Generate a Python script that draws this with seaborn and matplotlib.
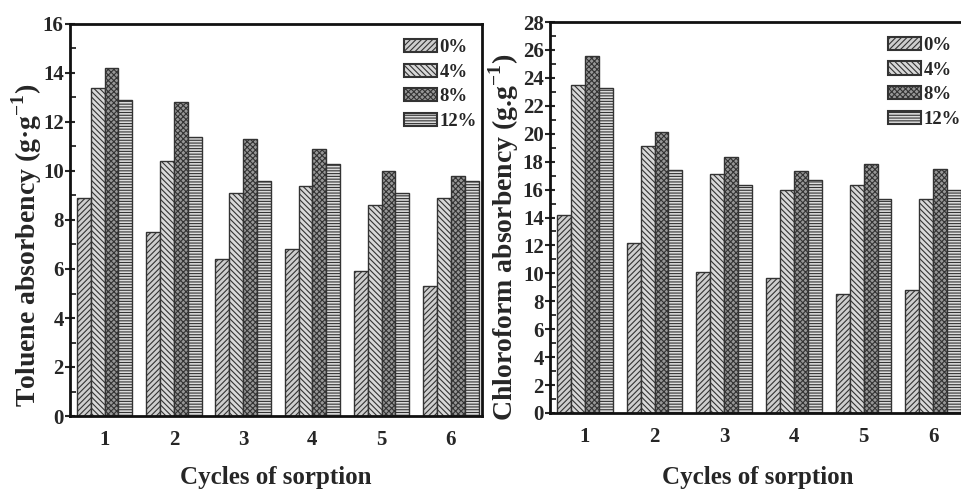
import matplotlib
matplotlib.use("Agg")
import matplotlib.pyplot as plt
import seaborn as sns
import pandas as pd
from matplotlib.ticker import MultipleLocator

# Sorption cycles and filler loadings
cycles = ["1", "2", "3", "4", "5", "6"]
loadings = ["0%", "4%", "8%", "12%"]

# Toluene absorbency (g/g) per loading, cycles 1-6
toluene_0 = [8.9, 7.5, 6.4, 6.8, 5.9, 5.3]
toluene_4 = [13.4, 10.4, 9.1, 9.4, 8.6, 8.9]
toluene_8 = [14.2, 12.8, 11.3, 10.9, 10.0, 9.8]
toluene_12 = [12.9, 11.4, 9.6, 10.3, 9.1, 9.6]

# Chloroform absorbency (g/g) per loading, cycles 1-6
chloro_0 = [14.2, 12.2, 10.1, 9.7, 8.5, 8.8]
chloro_4 = [23.5, 19.1, 17.1, 16.0, 16.3, 15.3]
chloro_8 = [25.6, 20.1, 18.3, 17.3, 17.8, 17.5]
chloro_12 = [23.3, 17.4, 16.3, 16.7, 15.3, 16.0]


def long_frame(series):
    rows = []
    for lab, vals in zip(loadings, series):
        for c, v in zip(cycles, vals):
            rows.append({"cycle": c, "loading": lab, "value": v})
    return pd.DataFrame(rows)


tol_df = long_frame([toluene_0, toluene_4, toluene_8, toluene_12])
chl_df = long_frame([chloro_0, chloro_4, chloro_8, chloro_12])

sns.set_theme(style="ticks")
plt.rcParams["font.family"] = ["Liberation Serif", "DejaVu Serif"]
plt.rcParams["font.weight"] = "bold"
plt.rcParams["mathtext.fontset"] = "custom"
plt.rcParams["mathtext.rm"] = "Liberation Serif:bold"
plt.rcParams["mathtext.bf"] = "Liberation Serif:bold"
plt.rcParams["hatch.linewidth"] = 0.8
plt.rcParams["axes.linewidth"] = 2.0

fills = ["#cecece", "#d8d8d8", "#979797", "#dcdcdc"]
hatches = ["//////", "\\\\\\\\\\\\", "xxxxxx", "------"]
edge = "#333333"

fig = plt.figure(figsize=(9.62, 4.94), dpi=100)
ax1 = fig.add_axes([70 / 962, 1 - 416 / 494, (482 - 70) / 962, (416 - 24) / 494])
ax2 = fig.add_axes([550 / 962, 1 - 413 / 494, (966 - 550) / 962, (413 - 22) / 494])


def draw(ax, df, ymax, ylabel, xmax, ylab_xy, xlab_y, leg_xy):
    sns.barplot(data=df, x="cycle", y="value", hue="loading", order=cycles,
                hue_order=loadings, width=0.8, ax=ax, errorbar=None,
                legend=False, saturation=1)
    for cont, fc, h in zip(ax.containers, fills, hatches):
        for bar in cont:
            bar.set_facecolor(fc)
            bar.set_edgecolor(edge)
            bar.set_hatch(h)
            bar.set_linewidth(1.0)
    ax.set_xlim(-0.5, xmax)
    ax.set_ylim(0, ymax)
    ax.yaxis.set_major_locator(MultipleLocator(2))
    ax.yaxis.set_minor_locator(MultipleLocator(1))
    ax.tick_params(axis="y", which="major", direction="inout", length=7,
                   width=1.5, labelsize=15, pad=1)
    ax.tick_params(axis="y", which="minor", direction="in", length=4, width=1.3)
    ax.tick_params(axis="x", length=0, labelsize=15, pad=10)
    for t in ax.get_xticklabels() + ax.get_yticklabels():
        t.set_fontweight("bold")
    for s in ax.spines.values():
        s.set_visible(True)
        s.set_linewidth(2.0)
        s.set_color("#111111")
    ax.set_xlabel("Cycles of sorption", fontsize=18, fontweight="bold")
    ax.xaxis.set_label_coords(0.5, xlab_y)
    ax.xaxis.label.set_va("center")
    ax.set_ylabel(ylabel, fontsize=20, fontweight="bold")
    ax.yaxis.set_label_coords(*ylab_xy)
    ax.yaxis.label.set_va("center")
    handles = [plt.Rectangle((0, 0), 1, 1, facecolor=fc, edgecolor=edge,
                             hatch=h, linewidth=1.5)
               for fc, h in zip(fills, hatches)]
    ax.legend(handles, loadings, loc="upper left", bbox_to_anchor=leg_xy,
              frameon=False, prop={"weight": "bold", "size": 13.5},
              handlelength=1.75, handleheight=0.7, handletextpad=0.15,
              labelspacing=0.4, borderaxespad=0, borderpad=0)


draw(ax1, tol_df, 16, "Toluene absorbency (g·g$^{-1}$)", 5.45,
     (-0.106, 0.436), -0.156, (0.81, 0.962))
draw(ax2, chl_df, 28, "Chloroform absorbency (g.g$^{-1}$)", 5.47,
     (-0.112, 0.448), -0.166, (0.812, 0.962))

fig.savefig("out.png", dpi=100)
